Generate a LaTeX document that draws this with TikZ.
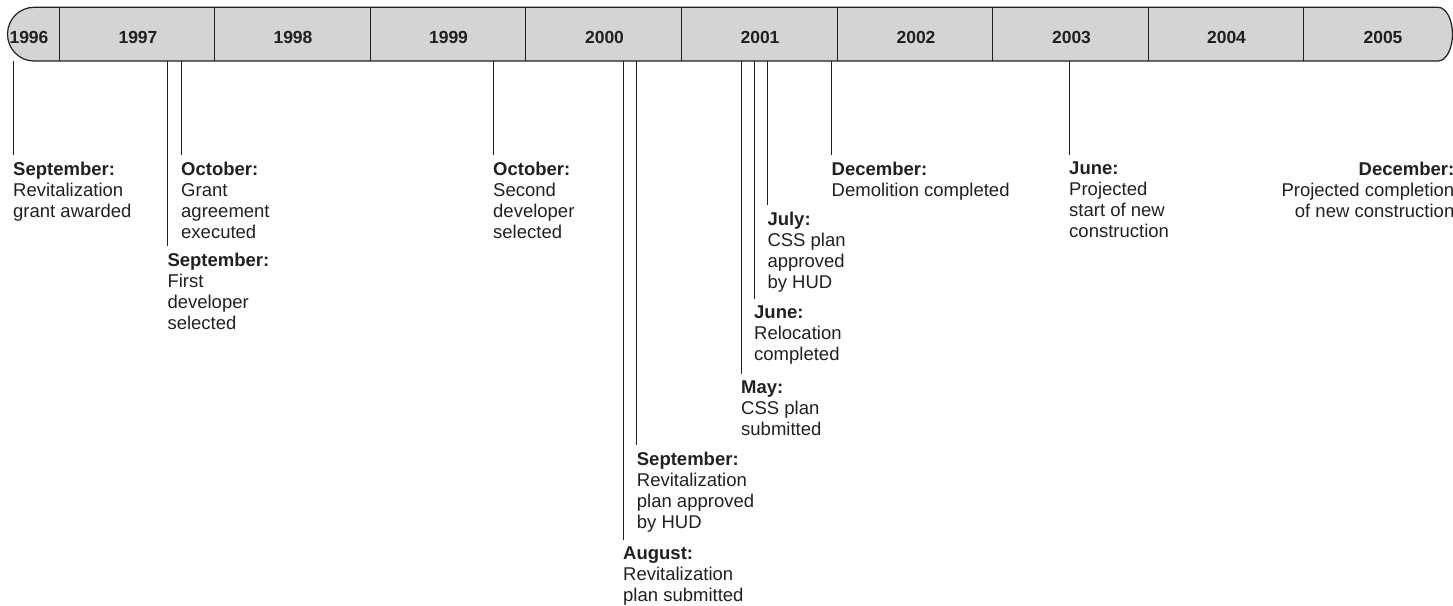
\documentclass[tikz,border=0pt]{standalone}
\usepackage{fontspec}
\setmainfont{Liberation Sans}
\definecolor{barfill}{RGB}{212,212,212}
\definecolor{ink}{RGB}{35,31,32}
\tikzset{
  bar/.style={draw=ink, line width=1.2pt, fill=barfill},
  divider/.style={draw=ink, line width=1pt},
  year/.style={font=\fontsize{17.5}{20}\selectfont\bfseries, text=ink, inner sep=0pt, anchor=base},
  event/.style={font=\fontsize{18.5}{21}\selectfont, text=ink, inner sep=0pt, anchor=north west, align=left},
  eventr/.style={event, anchor=north east, align=right},
  tick/.style={draw=ink, line width=1pt}
}
\newcommand{\mon}[1]{\textbf{#1}}
\begin{document}
\begin{tikzpicture}[x=1pt,y=-1pt]
\useasboundingbox (0,0) rectangle (1453,605);
% bar
\path[bar] (34,7.3) -- (1438,7.3) arc[start angle=90, end angle=-90, x radius=14.5pt, y radius=26.85pt] -- (34,61) arc[start angle=270, end angle=90, x radius=26.5pt, y radius=26.85pt] -- cycle;
\foreach \k in {0,...,8} {
  \draw[divider] ({59+155.6*\k},7.3) -- ({59+155.6*\k},61);
}
% years
\node[year] (y1996) at (29,43) {1996};
\node[year] (y1997) at (138,43) {1997};
\node[year] (y1998) at (293,43) {1998};
\node[year] (y1999) at (448.5,43) {1999};
\node[year] (y2000) at (604.5,43) {2000};
\node[year] (y2001) at (760,43) {2001};
\node[year] (y2002) at (916,43) {2002};
\node[year] (y2003) at (1071.5,43) {2003};
\node[year] (y2004) at (1226.5,43) {2004};
\node[year] (y2005) at (1383,43) {2005};
% anchor coordinates on the bar's lower edge
\foreach \n/\x in {a/13, b/167.3, c/181, d/493, e/623, f/636.7, g/741, h/754, i/767.3, j/831.5, k/1069} {
  \coordinate (s\n) at (\x,61);
}
% events
\node[event] (ea) at (13,161.5) {\mon{September:}\\Revitalization\\grant awarded};
\node[event] (eb) at (167.3,253) {\mon{September:}\\First\\developer\\selected};
\node[event] (ec) at (181,161.5) {\mon{October:}\\Grant\\agreement\\executed};
\node[event] (ed) at (493,161.5) {\mon{October:}\\Second\\developer\\selected};
\node[event] (ee) at (623,547) {\mon{August:}\\Revitalization\\plan submitted};
\node[event] (ef) at (636.7,452) {\mon{September:}\\Revitalization\\plan approved\\by HUD};
\node[event] (eg) at (741,380.5) {\mon{May:}\\CSS plan\\submitted};
\node[event] (eh) at (754,306) {\mon{June:}\\Relocation\\completed};
\node[event] (ei) at (767.3,212) {\mon{July:}\\CSS plan\\approved\\by HUD};
\node[event] (ej) at (831.5,161.5) {\mon{December:}\\Demolition completed};
\node[event] (ek) at (1069,161.5) {\mon{June:}\\Projected\\start of new\\construction};
\node[eventr] (el) at (1454.5,161.5) {\mon{December:}\\Projected completion\\of new construction};
% connectors
\foreach \n in {a,b,c,d,e,f,g,h,i,j,k} {
  \draw[tick] (s\n) -- ([yshift=7pt]e\n.north west);
}
\end{tikzpicture}
\end{document}
